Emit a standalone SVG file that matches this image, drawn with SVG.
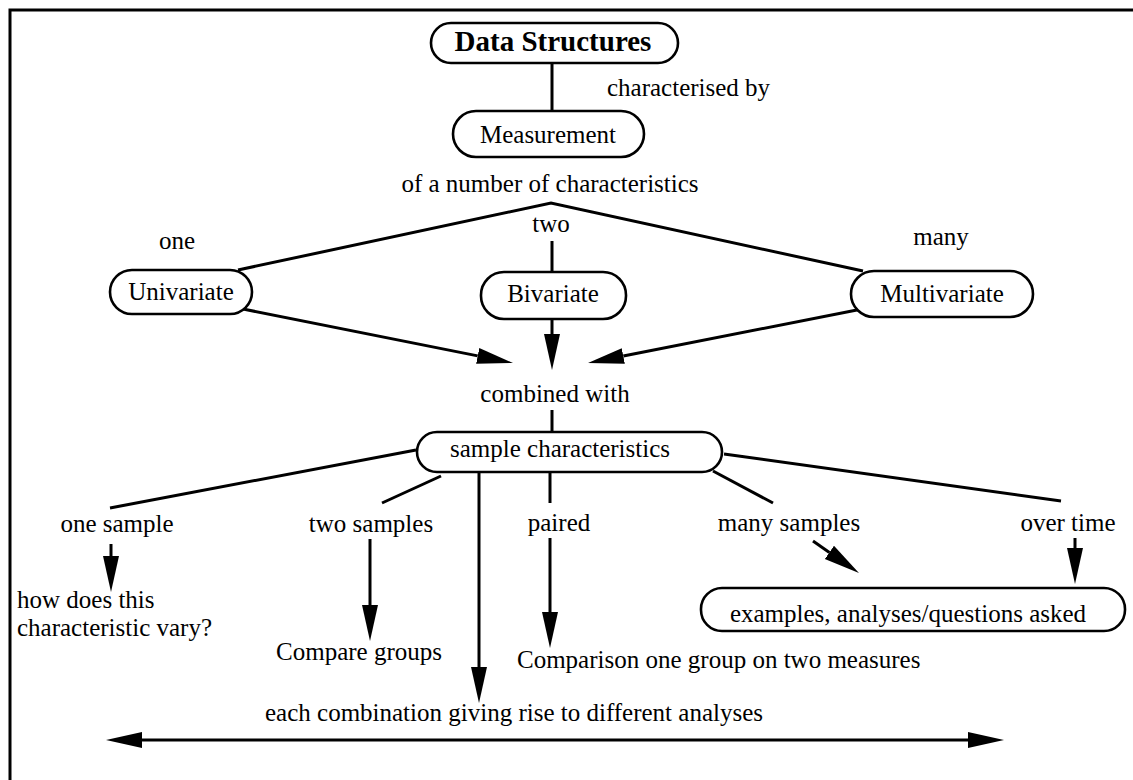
<svg xmlns="http://www.w3.org/2000/svg" width="1133" height="780" viewBox="0 0 1133 780">
  <style>
    .box { fill: #fff; stroke: #000; stroke-width: 2.6; }
    .t { font-family: "Liberation Serif", "Times New Roman", serif; font-size: 25px; fill: #000; }
    .c { text-anchor: middle; }
    .title { font-weight: bold; font-size: 29px; }
    .ln { fill: none; stroke: #000; stroke-width: 3; }
    .ar { fill: none; stroke: #000; stroke-width: 3; marker-end: url(#head); }
  </style>
  <defs>
    <marker id="head" markerUnits="userSpaceOnUse" markerWidth="40" markerHeight="20" viewBox="0 -10 40 20" refX="0" refY="0" orient="auto-start-reverse">
      <path d="M0,-8 L36,0 L0,8 z" fill="#000"/>
    </marker>
  </defs>

  <rect width="1133" height="780" fill="#fff"/>
  <!-- outer frame (runs off the right and bottom edges) -->
  <rect x="10" y="10" width="1200" height="900" fill="none" stroke="#000" stroke-width="3"/>

  <g id="connectors">
    <line class="ln" x1="552" y1="63" x2="552" y2="111"/>
    <polyline class="ln" points="238,270 551,203 863,271"/>
    <line class="ln" x1="552" y1="241" x2="552" y2="272"/>
    <line class="ar" x1="243" y1="309" x2="477.7" y2="355.9"/>
    <line class="ar" x1="552" y1="319" x2="552" y2="334"/>
    <line class="ar" x1="862" y1="309" x2="623.3" y2="356"/>
    <line class="ln" x1="552" y1="410" x2="552" y2="432"/>
    <line class="ln" x1="416" y1="450" x2="110" y2="508"/>
    <line class="ln" x1="441" y1="476" x2="382" y2="503"/>
    <line class="ln" x1="550" y1="472" x2="550" y2="503"/>
    <line class="ln" x1="713" y1="471" x2="773" y2="503"/>
    <line class="ln" x1="724" y1="454" x2="1061" y2="501"/>
    <line class="ar" x1="111" y1="544" x2="111" y2="556"/>
    <line class="ar" x1="370" y1="539" x2="370" y2="605"/>
    <line class="ar" x1="479" y1="472" x2="479" y2="667"/>
    <line class="ar" x1="550" y1="538" x2="550" y2="612"/>
    <line class="ar" x1="813" y1="541" x2="829.4" y2="552.4"/>
    <line class="ar" x1="1075" y1="538" x2="1075" y2="548"/>
    <line class="ar" x1="142" y1="740" x2="968" y2="740" style="marker-start: url(#head)"/>
  </g>

  <g id="data-structures">
    <rect class="box" x="431" y="23" width="247" height="40" rx="20"/>
    <text class="t c title" x="553" y="51">Data Structures</text>
  </g>
  <g id="characterised-by-label">
    <text class="t" x="607" y="96">characterised by</text>
  </g>
  <g id="measurement">
    <rect class="box" x="453" y="111" width="191" height="46" rx="23"/>
    <text class="t c" x="548" y="143">Measurement</text>
  </g>
  <g id="characteristics-label">
    <text class="t c" x="550" y="192">of a number of characteristics</text>
  </g>
  <g id="count-labels">
    <text class="t c" x="177" y="249">one</text>
    <text class="t c" x="551" y="232">two</text>
    <text class="t c" x="941" y="245">many</text>
  </g>
  <g id="univariate">
    <rect class="box" x="110" y="270" width="142" height="44" rx="22"/>
    <text class="t c" x="181" y="300">Univariate</text>
  </g>
  <g id="bivariate">
    <rect class="box" x="481" y="272" width="145" height="47" rx="23"/>
    <text class="t c" x="553" y="302">Bivariate</text>
  </g>
  <g id="multivariate">
    <rect class="box" x="851" y="271" width="182" height="46" rx="23"/>
    <text class="t c" x="942" y="302">Multivariate</text>
  </g>
  <g id="combined-with-label">
    <text class="t c" x="555" y="402">combined with</text>
  </g>
  <g id="sample-characteristics">
    <rect class="box" x="417" y="432" width="305" height="40" rx="20"/>
    <text class="t c" x="560" y="457">sample characteristics</text>
  </g>
  <g id="sample-labels">
    <text class="t c" x="117" y="532">one sample</text>
    <text class="t c" x="371" y="532">two samples</text>
    <text class="t c" x="559" y="531">paired</text>
    <text class="t c" x="789" y="531">many samples</text>
    <text class="t c" x="1068" y="531">over time</text>
  </g>
  <g id="one-sample-question">
    <text class="t" x="17" y="608">how does this<tspan x="17" dy="28">characteristic vary?</tspan></text>
  </g>
  <g id="examples">
    <rect class="box" x="701" y="588" width="424" height="43" rx="21"/>
    <text class="t c" x="908" y="622">examples, analyses/questions asked</text>
  </g>
  <g id="compare-groups">
    <text class="t c" x="359" y="660">Compare groups</text>
  </g>
  <g id="comparison-one-group">
    <text class="t" x="517" y="668">Comparison one group on two measures</text>
  </g>
  <g id="analyses-label">
    <text class="t c" x="514" y="721">each combination giving rise to different analyses</text>
  </g>
</svg>
